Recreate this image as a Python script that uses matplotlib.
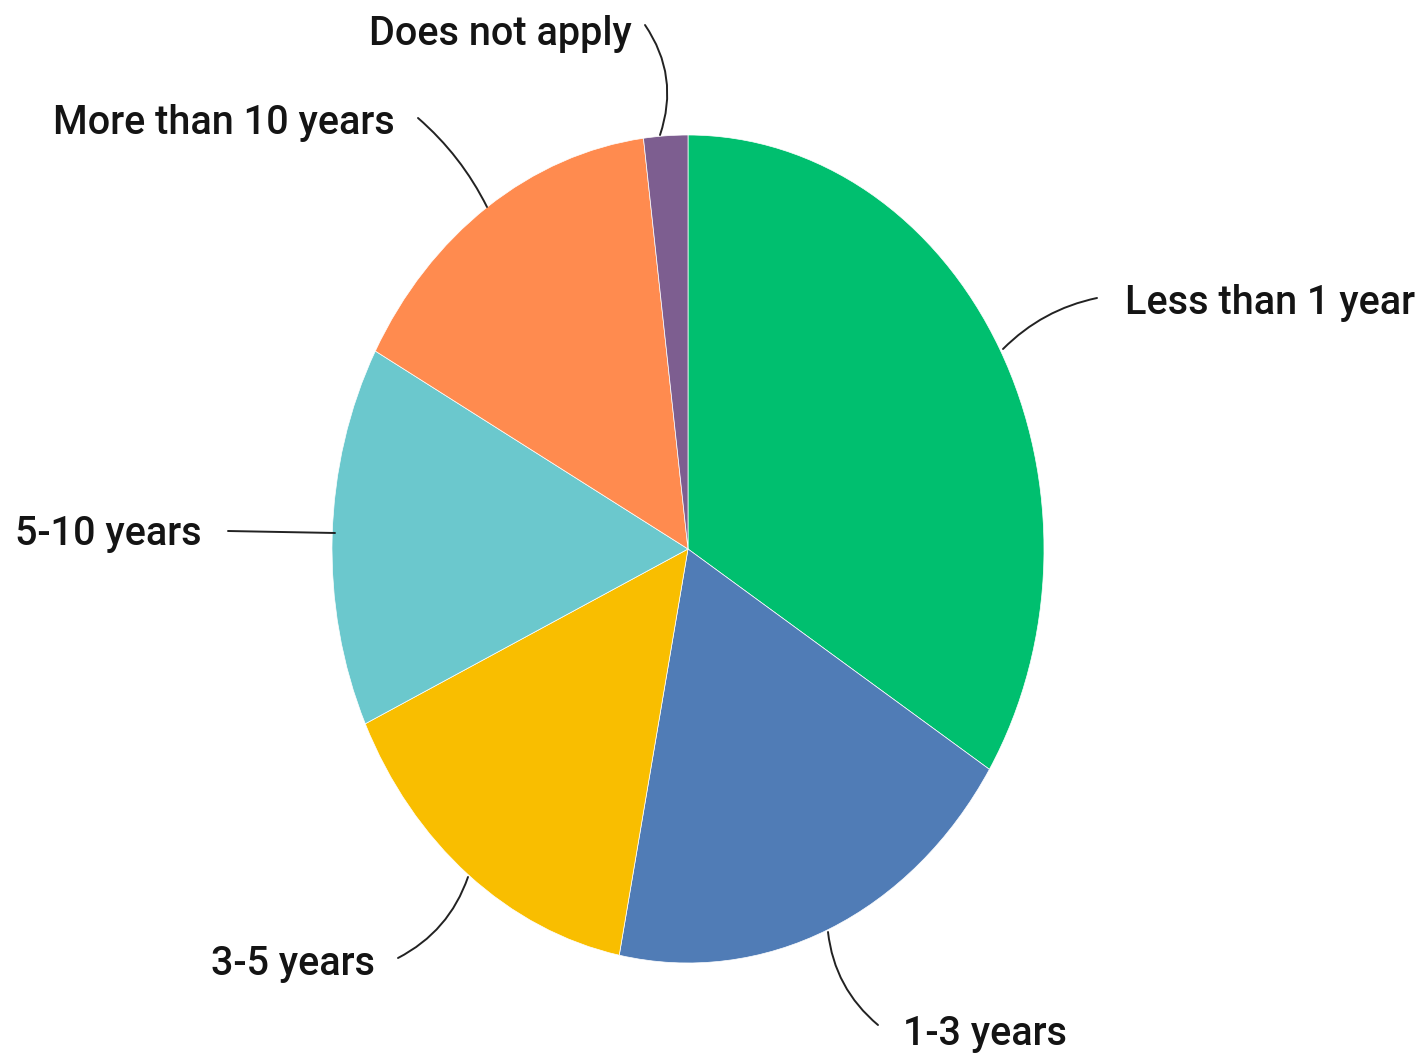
import matplotlib
matplotlib.use("Agg")
import matplotlib.pyplot as plt

labels = ["Less than 1 year", "1-3 years", "3-5 years", "5-10 years",
          "More than 10 years", "Does not apply"]
values = [34, 19.2, 15, 14.9, 15.1, 2]
colors = ["#00BF6F", "#507CB6", "#F9BE00", "#6BC8CD", "#FF8B4F", "#7D5E90"]

W, H = 1422, 1054
CX, CY, RX, RY = 688, 549, 356, 414

fig = plt.figure(figsize=(W / 100, H / 100), dpi=100)
ax = fig.add_axes([0, 0, 1, 1])
ax.pie(values, colors=colors, startangle=90, counterclock=False,
       wedgeprops=dict(edgecolor="white", linewidth=0.5))
ax.set_aspect("auto")
ax.set_xlim(-CX / RX, (W - CX) / RX)
ax.set_ylim(-(H - CY) / RY, CY / RY)
ax.axis("off")


def d(px, py):
    return ((px - CX) / RX, (CY - py) / RY)


# (text x, baseline y, ha, line start, line end, rad)
lab = [
    ("Less than 1 year", 1125, 314, "left", (1097, 298), (1003, 349), 0.15),
    ("1-3 years", 903, 1045, "left", (878, 1025), (828, 932), -0.2),
    ("3-5 years", 375, 975, "right", (398, 958), (468, 877), 0.2),
    ("5-10 years", 202, 545, "right", (228, 531), (335, 533), 0.0),
    ("More than 10 years", 395, 134, "right", (418, 118), (487, 207), -0.1),
    ("Does not apply", 632, 45, "right", (645, 25), (660, 135), -0.25),
]
for t, tx, ty, ha, p0, p1, rad in lab:
    ax.text(*d(tx, ty), t, ha=ha, va="baseline", fontsize=28.5,
            family="Roboto", fontweight="medium", color="#141414")
    ax.annotate("", xy=d(*p1), xytext=d(*p0),
                arrowprops=dict(arrowstyle="-", color="#222222", lw=1.4,
                                shrinkA=0, shrinkB=0,
                                connectionstyle=f"arc3,rad={rad}"),
                annotation_clip=False)

fig.savefig("out.png", dpi=100, facecolor="white")
